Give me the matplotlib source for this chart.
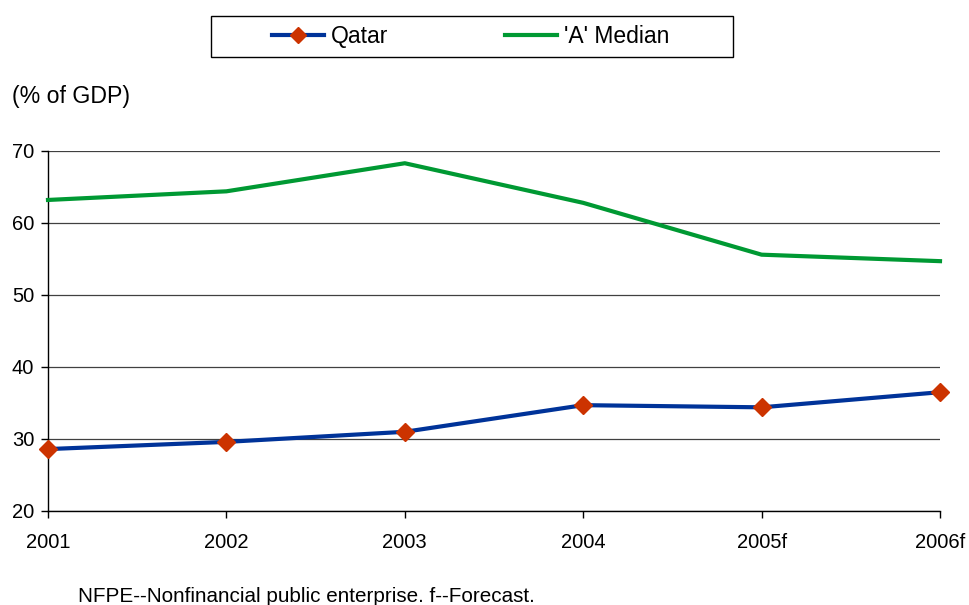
import matplotlib.pyplot as plt
from matplotlib.patches import Rectangle

plt.rcParams['font.family'] = ['Liberation Sans', 'DejaVu Sans']

years = ['2001', '2002', '2003', '2004', '2005f', '2006f']
qatar = [28.6, 29.6, 31.0, 34.7, 34.4, 36.5]
a_median = [63.2, 64.4, 68.3, 62.8, 55.6, 54.7]
yticks = [20, 30, 40, 50, 60, 70]

W, H = 969, 605
fig = plt.figure(figsize=(W/100, H/100), dpi=100)
ax = fig.add_axes([48/W, 1-511/H, (940-48)/W, (511-151)/H])

x = range(len(years))
ax.plot(x, qatar, color='#003399', lw=3, marker='D', ms=9,
        mfc='#cc3300', mec='#cc3300', label='Qatar', zorder=3)
ax.plot(x, a_median, color='#009933', lw=3, label="'A' Median", zorder=3)

ax.set_xlim(0, len(years)-1)
ax.set_ylim(20, 70)
ax.set_yticks(yticks)
ax.set_xticks(list(x))
ax.set_xticklabels(years)
ax.yaxis.grid(True, color='#404040', lw=0.9)
ax.set_axisbelow(True)
for s in ['top', 'right']:
    ax.spines[s].set_visible(False)
ax.spines['left'].set_linewidth(1)
ax.spines['bottom'].set_linewidth(1)
ax.tick_params(axis='both', direction='out', length=5, width=1, labelsize=14.5, colors='black')
ax.tick_params(axis='x', pad=11)
ax.tick_params(axis='y', pad=5)
for ln in ax.lines:
    ln.set_clip_on(False)

# legend with square frame
fig.patches.append(Rectangle((211/W, 1-57/H), (733-211)/W, (57-16)/H,
                             transform=fig.transFigure, fill=False,
                             edgecolor='black', lw=1))
fig.legend(loc='center', bbox_to_anchor=(471/W, 1-36.5/H), ncol=2, frameon=False,
           fontsize=16.5, handlelength=2.27, columnspacing=5.1, handletextpad=0.3,
           markerscale=0.85)

fig.text(12/W, 1-97/H, '(% of GDP)', fontsize=16.7, va='center', ha='left')
fig.text(78/W, 1-596/H, 'NFPE--Nonfinancial public enterprise. f--Forecast.',
         fontsize=14.9, va='center', ha='left')

fig.savefig('out.png', dpi=100)
